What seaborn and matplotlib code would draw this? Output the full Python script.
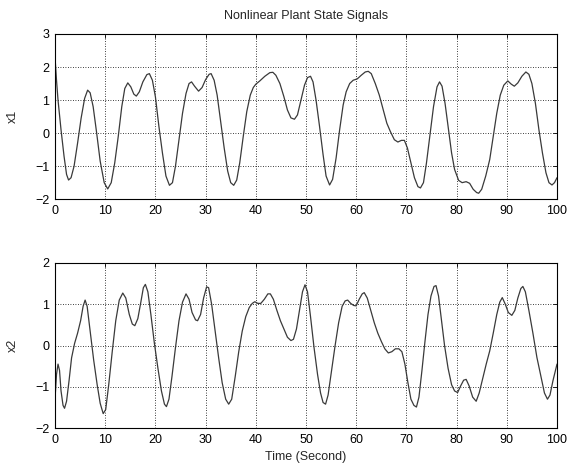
import numpy as np
import pandas as pd
import matplotlib
matplotlib.use('Agg')
import matplotlib.pyplot as plt
import seaborn as sns

# values (time in s, state value)
t_x1 = [0.0, 0.3, 0.6, 1.2, 1.8, 2.3, 2.7, 3.2, 3.8, 4.5, 5.2, 5.9, 6.5, 7.0, 7.6, 8.3, 9.0, 9.8,
        10.5, 11.2, 11.9, 12.6, 13.3, 13.9, 14.5, 15.1, 15.7, 16.2, 16.8, 17.5, 18.3, 18.8, 19.4,
        20.0, 20.7, 21.4, 22.1, 22.8, 23.4, 24.0, 24.7, 25.4, 26.1, 26.7, 27.2, 27.8, 28.6, 29.3,
        30.0, 30.7, 31.1, 31.7, 32.3, 33.0, 33.7, 34.4, 35.0, 35.6, 36.2, 36.8, 37.5, 38.2, 38.9,
        39.5, 40.0, 40.8, 41.8, 42.8, 43.4, 44.0, 44.8, 45.6, 46.3, 47.0, 47.7, 48.3, 49.0, 49.7,
        50.3, 50.9, 51.4, 52.0, 52.7, 53.4, 54.0, 54.7, 55.3, 56.0, 56.7, 57.4, 58.0, 58.7, 59.4,
        60.2, 61.0, 61.8, 62.4, 63.0, 63.8, 64.6, 65.4, 66.1, 66.8, 67.6, 68.3, 69.0, 69.6,
        70.2, 70.9, 71.6, 72.3, 72.8, 73.4, 74.0, 74.7, 75.4, 76.1, 76.6, 77.1, 77.7, 78.4, 79.0,
        79.6, 80.4, 81.1, 81.9, 82.6, 83.3, 84.0, 84.4, 85.0, 85.8, 86.6, 87.3, 88.0, 88.7, 89.4,
        90.2, 90.9, 91.5, 92.2, 93.0, 93.8, 94.4, 95.0, 95.7, 96.4, 97.1, 97.8, 98.4, 99.0, 99.5,
        100.0]
x1 = [2.3, 1.6, 1.0, 0.1, -0.7, -1.25, -1.42, -1.35, -1.0, -0.3, 0.45, 1.05, 1.3, 1.22, 0.8, 0.0,
      -0.85, -1.5, -1.69, -1.5, -0.9, -0.1, 0.8, 1.35, 1.52, 1.4, 1.18, 1.12, 1.25, 1.55, 1.77,
      1.8, 1.6, 1.1, 0.2, -0.6, -1.3, -1.58, -1.5, -1.0, -0.2, 0.6, 1.2, 1.5, 1.55, 1.42, 1.27,
      1.38, 1.62, 1.78, 1.8, 1.6, 1.15, 0.35, -0.45, -1.15, -1.5, -1.58, -1.42, -0.9, -0.1, 0.65,
      1.15, 1.38, 1.48, 1.58, 1.72, 1.83, 1.84, 1.75, 1.5, 1.1, 0.7, 0.46, 0.42, 0.55, 1.0, 1.45,
      1.68, 1.72, 1.55, 1.0, 0.2, -0.65, -1.3, -1.57, -1.4, -0.75, 0.1, 0.85, 1.25, 1.5, 1.6,
      1.64, 1.75, 1.85, 1.87, 1.8, 1.5, 1.15, 0.7, 0.3, 0.05, -0.2, -0.27, -0.22, -0.22,
      -0.45, -0.9, -1.35, -1.62, -1.66, -1.5, -0.9, -0.05, 0.8, 1.4, 1.55, 1.42, 0.9, 0.1, -0.6,
      -1.1, -1.43, -1.5, -1.47, -1.52, -1.7, -1.8, -1.82, -1.7, -1.3, -0.8, -0.1, 0.6, 1.15, 1.45,
      1.58, 1.48, 1.42, 1.52, 1.72, 1.85, 1.78, 1.5, 0.9, 0.1, -0.6, -1.2, -1.5, -1.57, -1.5,
      -1.35]

t_x2 = [0.0, 0.3, 0.6, 0.9, 1.2, 1.6, 1.9, 2.3, 2.8, 3.3, 3.9, 4.5, 5.1, 5.6, 6.0, 6.4, 7.0, 7.7,
        8.4, 9.0, 9.6, 10.1, 10.7, 11.4, 12.1, 12.8, 13.5, 14.1, 14.8, 15.4, 15.9, 16.5, 17.1,
        17.6, 18.0, 18.5, 19.1, 19.8, 20.5, 21.2, 21.8, 22.2, 22.7, 23.3, 24.0, 24.7, 25.4, 26.1,
        26.7, 27.3, 28.0, 28.4, 29.0, 29.6, 30.2, 30.6, 31.2, 31.9, 32.6, 33.3, 34.0, 34.6, 35.2,
        35.9, 36.6, 37.3, 38.0, 38.7, 39.3, 39.8, 40.4, 41.0, 41.7, 42.4, 42.9, 43.5, 44.2, 44.9,
        45.6, 46.3, 47.0, 47.5, 48.1, 48.7, 49.3, 49.8, 50.3, 50.9, 51.6, 52.3, 52.9, 53.4, 53.9,
        54.4, 55.1, 55.8, 56.5, 57.2, 57.8, 58.3, 58.9, 59.5, 60.0, 60.6, 61.2, 61.6, 62.2, 62.9,
        63.6, 64.3, 65.0, 65.7, 66.4, 67.1, 67.8, 68.5, 69.1, 69.7, 70.3, 70.9, 71.5, 72.0, 72.5,
        73.1, 73.7, 74.3, 74.9, 75.5, 75.9, 76.4, 77.0, 77.6, 78.3, 79.0, 79.6, 80.2, 80.8, 81.4,
        81.9, 82.5, 83.2, 83.9, 84.5, 85.2, 85.9, 86.6, 87.3, 88.0, 88.6, 89.1, 89.7, 90.3, 91.0,
        91.6, 92.2, 92.8, 93.2, 93.7, 94.4, 95.2, 96.0, 96.8, 97.5, 98.1, 98.6, 99.2, 100.0]
x2 = [-1.3, -0.7, -0.45, -0.6, -1.1, -1.45, -1.52, -1.35, -0.85, -0.3, 0.05, 0.3, 0.6, 0.95, 1.1,
      0.95, 0.35, -0.35, -0.95, -1.4, -1.65, -1.55, -0.95, -0.15, 0.6, 1.1, 1.27, 1.15, 0.75,
      0.52, 0.48, 0.65, 1.05, 1.4, 1.48, 1.3, 0.75, 0.05, -0.55, -1.1, -1.42, -1.48, -1.3, -0.75,
      -0.05, 0.6, 1.05, 1.25, 1.12, 0.8, 0.62, 0.6, 0.75, 1.15, 1.42, 1.4, 1.0, 0.35, -0.3, -0.9,
      -1.3, -1.42, -1.3, -0.75, -0.15, 0.35, 0.7, 0.92, 1.02, 1.06, 1.02, 1.02, 1.12, 1.25, 1.25,
      1.12, 0.85, 0.6, 0.4, 0.2, 0.12, 0.15, 0.4, 0.85, 1.3, 1.47, 1.3, 0.7, -0.05, -0.7, -1.15,
      -1.38, -1.42, -1.2, -0.6, 0.0, 0.55, 0.95, 1.08, 1.1, 1.02, 0.97, 0.96, 1.12, 1.25, 1.28,
      1.15, 0.85, 0.55, 0.3, 0.1, -0.08, -0.18, -0.15, -0.08, -0.08, -0.15, -0.45, -0.9, -1.3,
      -1.45, -1.49, -1.25, -0.6, 0.1, 0.75, 1.2, 1.43, 1.45, 1.2, 0.6, 0.0, -0.55, -0.95, -1.1,
      -1.14, -0.98, -0.84, -0.82, -0.98, -1.25, -1.35, -1.15, -0.8, -0.45, -0.13, 0.3, 0.75,
      1.05, 1.16, 1.0, 0.8, 0.73, 0.85, 1.15, 1.38, 1.43, 1.3, 0.85, 0.3, -0.29, -0.75, -1.15,
      -1.3, -1.2, -0.85, -0.45]

x_ticks = list(range(0, 101, 10))
x1_ticks = [-2, -1, 0, 1, 2, 3]
x2_ticks = [-2, -1, 0, 1, 2]

sns.set_style('white')
plt.rcParams['font.family'] = ['Liberation Sans', 'DejaVu Sans']
plt.rcParams['font.size'] = 9

df1 = pd.DataFrame({'t': t_x1, 'x1': x1})
df2 = pd.DataFrame({'t': t_x2, 'x2': x2})

fig = plt.figure(figsize=(5.79, 4.72), dpi=100)
ax1 = fig.add_axes([0.095, 0.578, 0.867, 0.35])
ax2 = fig.add_axes([0.095, 0.093, 0.867, 0.35])

line_color = '#3a3a3a'
sns.lineplot(data=df1, x='t', y='x1', ax=ax1, color=line_color, linewidth=0.9, sort=False)
sns.lineplot(data=df2, x='t', y='x2', ax=ax2, color=line_color, linewidth=0.9, sort=False)

for ax, yt in [(ax1, x1_ticks), (ax2, x2_ticks)]:
    ax.set_xlim(0, 100)
    ax.set_ylim(yt[0], yt[-1])
    ax.set_xticks(x_ticks)
    ax.set_yticks(yt)
    ax.grid(True, color='black', linestyle=(0, (1, 2)), linewidth=0.6)
    ax.tick_params(direction='in', top=True, right=True, length=3, width=0.6,
                   labelsize=9, colors='black', pad=4)
    for sp in ax.spines.values():
        sp.set_visible(True)
        sp.set_color('black')
        sp.set_linewidth(0.8)
    ax.set_xlabel('')

ax1.set_ylabel('x1', fontsize=9, labelpad=12)
ax2.set_ylabel('x2', fontsize=9, labelpad=12)
ax2.set_xlabel('Time (Second)', fontsize=9, labelpad=4)
ax1.set_title('Nonlinear Plant State Signals', fontsize=9, pad=11)

fig.savefig('out.png', dpi=100, facecolor='white')
